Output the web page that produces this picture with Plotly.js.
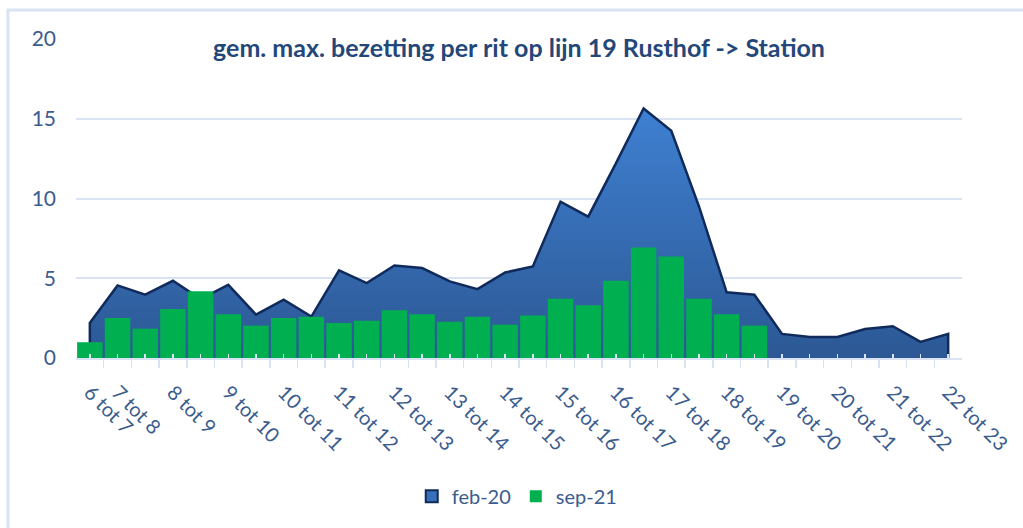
<!DOCTYPE html>
<html><head><meta charset="utf-8">
<script src="https://cdn.plot.ly/plotly-3.0.1.min.js"></script>
<style>html,body{margin:0;padding:0;background:#fff}#chart{width:1023px;height:528px}</style>
</head><body><div id="chart"></div>
<script>
const hourLabels = ["6 tot 7","7 tot 8","8 tot 9","9 tot 10","10 tot 11","11 tot 12","12 tot 13","13 tot 14","14 tot 15","15 tot 16","16 tot 17","17 tot 18","18 tot 19","19 tot 20","20 tot 21","21 tot 22","22 tot 23"];
const feb20 = [2.2,4.55,3.97,4.84,3.7,4.59,2.72,3.66,2.6,5.49,4.7,5.8,5.64,4.8,4.32,5.36,5.74,9.8,8.86,12.2,15.64,14.24,9.5,4.12,3.97,1.51,1.32,1.32,1.82,1.99,1.01,1.51];
const sep21 = [0.99,2.51,1.84,3.07,4.18,2.74,2.03,2.51,2.59,2.2,2.34,2.99,2.74,2.28,2.59,2.09,2.66,3.72,3.3,4.84,6.93,6.36,3.72,2.74,2.03];
const seriesNames = ["feb-20","sep-21"];

const slots = feb20.map((_, i) => i);
const labelSlots = hourLabels.map((_, i) => i === 0 ? 0 : 2 * i - 1);
const tickText = slots.map(s => { const k = labelSlots.indexOf(s); return k >= 0 ? hourLabels[k] : ""; });

const areaX = [slots[0], ...slots, slots[slots.length - 1]];
const areaY = [0, ...feb20, 0];

const tickColor = "#3B5C8E";
const gridColor = "#D9E3F3";
const areaLine = "#112A5C";

const traces = [
  {
    type: "scatter", mode: "lines", name: seriesNames[0], showlegend: false,
    x: areaX, y: areaY, fill: "tozeroy",
    fillgradient: { type: "vertical", colorscale: [[0, "#2C5894"], [1, "#3F80D2"]] },
    line: { color: areaLine, width: 2.5 },
    xaxis: "x", yaxis: "y", hoverinfo: "skip"
  },
  {
    type: "bar", name: seriesNames[0], x: [null], y: [null],
    marker: { color: "#3670BA", line: { color: areaLine, width: 2 } },
    xaxis: "x", yaxis: "y2", hoverinfo: "skip", showlegend: true
  },
  {
    type: "bar", name: seriesNames[1],
    x: slots.slice(0, sep21.length), y: sep21,
    marker: { color: "#00B050" },
    xaxis: "x", yaxis: "y2", hoverinfo: "skip"
  }
];

const pw = 886, ph = 319.5, l = 76, t = 39;
const bx = (8 - l) / pw, by = (t + ph - 10) / ph;

const layout = {
  width: 1023, height: 528,
  margin: { l: l, r: 1023 - l - pw, t: t, b: 528 - t - ph },
  paper_bgcolor: "#ffffff", plot_bgcolor: "rgba(0,0,0,0)",
  font: { family: "Lato, 'Open Sans', sans-serif", color: tickColor },
  title: {
    text: "<b>gem. max. bezetting per rit op lijn 19 Rusthof -> Station</b>",
    font: { family: "Lato, 'Open Sans', sans-serif", size: 25, color: "#24477A" },
    xref: "paper", x: 0.5, xanchor: "center",
    yref: "paper", y: (t + ph - 48) / ph, yanchor: "middle"
  },
  showlegend: true,
  legend: {
    orientation: "h", x: 0.498, xanchor: "center", y: (t + ph - 497) / ph, yanchor: "middle",
    font: { size: 20, color: tickColor }, bgcolor: "rgba(0,0,0,0)", traceorder: "normal"
  },
  barmode: "overlay",
  bargap: 0.08,
  xaxis: {
    range: [-0.5, slots.length - 0.5], tickmode: "array", tickvals: slots, ticktext: tickText,
    tickangle: 45, ticks: "inside", ticklen: 4, tickwidth: 1.5, tickcolor: gridColor,
    showline: true, linecolor: gridColor, linewidth: 2, showgrid: false, zeroline: false,
    tickfont: { size: 20, color: tickColor }, ticklabelstandoff: 13,
    minor: { tickmode: "linear", tick0: -0.5, dtick: 1, ticks: "outside", ticklen: 8, tickwidth: 1.5, tickcolor: gridColor, showgrid: false }
  },
  yaxis: {
    range: [0, 20], tickvals: [0, 5, 10, 15, 20], showgrid: true, gridcolor: gridColor, gridwidth: 2,
    zeroline: false, showline: false, ticks: "", tickfont: { size: 21, color: tickColor }, ticklabelstandoff: 19
  },
  yaxis2: { range: [0, 20], overlaying: "y", visible: false },
  shapes: [{
    type: "path", xref: "paper", yref: "paper", layer: "below",
    path: `M ${bx},-1 L ${bx},${by} L 1.3,${by}`,
    line: { color: gridColor, width: 3 }
  }]
};

Plotly.newPlot("chart", traces, layout, { staticPlot: true, displayModeBar: false });
</script>
</body></html>
